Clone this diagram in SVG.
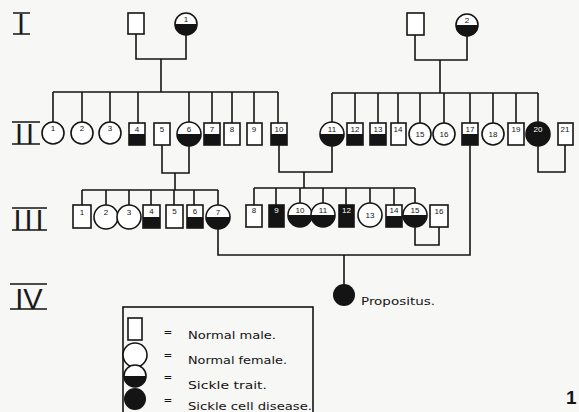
<svg xmlns="http://www.w3.org/2000/svg" width="579" height="412" viewBox="0 0 579 412">
<style>
.l{stroke:#141414;stroke-width:1.6;fill:none}
.s{fill:#fff;stroke:#141414;stroke-width:1.6}
.f{fill:#141414}
.n{font-family:"Liberation Sans",Arial,sans-serif;font-size:8px;text-anchor:middle;fill:#141414}
.w{font-family:"Liberation Sans",Arial,sans-serif;font-size:8px;text-anchor:middle;fill:#fff}
.g{font-family:"Liberation Sans",Arial,sans-serif;font-size:29px;fill:#1a1a1a}
.t{font-family:"DejaVu Sans","Liberation Sans",sans-serif;font-size:10.5px;fill:#141414}
</style>
<rect width="579" height="412" fill="#f7f7f5"/>

<g id="labels">
  <g id="gen-I"><text class="g" x="21" y="34" text-anchor="middle">I</text><path class="l" d="M13 13H30M13 34H30"/></g>
  <g id="gen-II"><text class="g" x="26" y="144" text-anchor="middle" letter-spacing="3">II</text><path class="l" d="M12 122H40M12 144H40"/></g>
  <g id="gen-III"><text class="g" x="30" y="230" text-anchor="middle" letter-spacing="3">III</text><path class="l" d="M12 208H47M12 230H47"/></g>
  <g id="gen-IV"><text class="g" x="29" y="309" text-anchor="middle">IV</text><path class="l" d="M10 284H47M10 309H47"/></g>
</g>

<g id="connectors">
  <path class="l" d="M136 34V59H186V35M161 59V92M53 92H278"/>
  <path class="l" d="M53 92V122M82 92V122M110 92V122M138 92V123M189 92V122M212 92V123M232 92V123M254 92V123M278 92V123"/>
  <path class="l" d="M415 35V60H467V36M440 60V93M332 93H538"/>
  <path class="l" d="M332 93V122M355 93V123M378 93V123M398 93V123M420 93V123M444 93V123M470 93V123M493 93V123M516 93V123M538 93V122"/>
  <path class="l" d="M162 145V173H189V146M175 173V190"/>
  <path class="l" d="M279 145V172H332V146M304 172V188"/>
  <path class="l" d="M538 146V172H565V145"/>
  <path class="l" d="M82 190H218M82 190V205M106 190V205M129 190V205M151 190V205M174 190V205M194 190V205M218 190V205"/>
  <path class="l" d="M254 188H415M254 188V205M276 188V205M300 188V203M323 188V203M346 188V205M370 188V203M394 188V205M415 188V203"/>
  <path class="l" d="M415 227V245H439V227"/>
  <path class="l" d="M218 229V255H470V145M344 255V284"/>
</g>

<!-- Generation I -->
<g id="I-a-father"><rect class="s" x="128" y="13" width="16" height="21"/></g>
<g id="I-a-mother"><circle class="s" cx="186" cy="24" r="11"/><path class="f" d="M175 24A11 11 0 0 0 197 24Z"/><text class="n" x="186" y="22">1</text></g>
<g id="I-b-father"><rect class="s" x="407" y="13" width="17" height="22"/></g>
<g id="I-b-mother"><circle class="s" cx="467" cy="25" r="11"/><path class="f" d="M456 25A11 11 0 0 0 478 25Z"/><text class="n" x="467" y="23">2</text></g>

<!-- Generation II -->
<g id="II-1"><circle class="s" cx="53" cy="133" r="11"/><text class="n" x="53" y="131">1</text></g>
<g id="II-2"><circle class="s" cx="82" cy="133" r="11"/><text class="n" x="82" y="131">2</text></g>
<g id="II-3"><circle class="s" cx="110" cy="133" r="11"/><text class="n" x="110" y="131">3</text></g>
<g id="II-4"><rect class="s" x="129" y="123" width="16" height="22"/><rect class="f" x="129" y="134" width="16" height="11"/><text class="n" x="137" y="132">4</text></g>
<g id="II-5"><rect class="s" x="154" y="123" width="16" height="22"/><text class="n" x="162" y="132">5</text></g>
<g id="II-6"><circle class="s" cx="189" cy="134" r="12"/><path class="f" d="M177 134A12 12 0 0 0 201 134Z"/><text class="n" x="189" y="132">6</text></g>
<g id="II-7"><rect class="s" x="204" y="123" width="16" height="22"/><rect class="f" x="204" y="134" width="16" height="11"/><text class="n" x="212" y="132">7</text></g>
<g id="II-8"><rect class="s" x="224" y="123" width="16" height="22"/><text class="n" x="232" y="132">8</text></g>
<g id="II-9"><rect class="s" x="247" y="123" width="15" height="22"/><text class="n" x="254" y="132">9</text></g>
<g id="II-10"><rect class="s" x="271" y="123" width="16" height="22"/><rect class="f" x="271" y="134" width="16" height="11"/><text class="n" x="279" y="132">10</text></g>
<g id="II-11"><circle class="s" cx="332" cy="134" r="12"/><path class="f" d="M320 134A12 12 0 0 0 344 134Z"/><text class="n" x="332" y="132">11</text></g>
<g id="II-12"><rect class="s" x="347" y="123" width="16" height="22"/><rect class="f" x="347" y="134" width="16" height="11"/><text class="n" x="355" y="132">12</text></g>
<g id="II-13"><rect class="s" x="370" y="123" width="16" height="22"/><rect class="f" x="370" y="134" width="16" height="11"/><text class="n" x="378" y="132">13</text></g>
<g id="II-14"><rect class="s" x="391" y="123" width="15" height="22"/><text class="n" x="398" y="132">14</text></g>
<g id="II-15"><circle class="s" cx="420" cy="134" r="11"/><text class="n" x="420" y="137">15</text></g>
<g id="II-16"><circle class="s" cx="444" cy="134" r="11"/><text class="n" x="444" y="137">16</text></g>
<g id="II-17"><rect class="s" x="462" y="123" width="16" height="22"/><rect class="f" x="462" y="134" width="16" height="11"/><text class="n" x="470" y="132">17</text></g>
<g id="II-18"><circle class="s" cx="493" cy="134" r="11"/><text class="n" x="493" y="137">18</text></g>
<g id="II-19"><rect class="s" x="508" y="123" width="16" height="22"/><text class="n" x="516" y="132">19</text></g>
<g id="II-20"><circle cx="538" cy="134" r="12" fill="#141414" stroke="#141414" stroke-width="1.6"/><text class="w" x="538" y="132">20</text></g>
<g id="II-21"><rect class="s" x="558" y="123" width="15" height="22"/><text class="n" x="565" y="132">21</text></g>

<!-- Generation III -->
<g id="III-1"><rect class="s" x="73" y="205" width="18" height="23"/><text class="n" x="82" y="215">1</text></g>
<g id="III-2"><circle class="s" cx="106" cy="217" r="12"/><text class="n" x="106" y="215">2</text></g>
<g id="III-3"><circle class="s" cx="129" cy="217" r="12"/><text class="n" x="129" y="215">3</text></g>
<g id="III-4"><rect class="s" x="143" y="205" width="17" height="23"/><rect class="f" x="143" y="217" width="17" height="11"/><text class="n" x="151.5" y="214">4</text></g>
<g id="III-5"><rect class="s" x="166" y="205" width="17" height="23"/><text class="n" x="174.5" y="214">5</text></g>
<g id="III-6"><rect class="s" x="187" y="205" width="16" height="23"/><rect class="f" x="187" y="217" width="16" height="11"/><text class="n" x="195" y="214">6</text></g>
<g id="III-7"><circle class="s" cx="218" cy="217" r="12"/><path class="f" d="M206 217A12 12 0 0 0 230 217Z"/><text class="n" x="218" y="215">7</text></g>
<g id="III-8"><rect class="s" x="246" y="205" width="16" height="22"/><text class="n" x="254" y="213">8</text></g>
<g id="III-9"><rect class="s" x="269" y="205" width="15" height="22"/><rect class="f" x="269" y="205" width="15" height="22"/><text class="w" x="276.5" y="213">9</text></g>
<g id="III-10"><circle class="s" cx="300" cy="215" r="12"/><path class="f" d="M288 215A12 12 0 0 0 312 215Z"/><text class="n" x="300" y="213">10</text></g>
<g id="III-11"><circle class="s" cx="323" cy="215" r="12"/><path class="f" d="M311 215A12 12 0 0 0 335 215Z"/><text class="n" x="323" y="213">11</text></g>
<g id="III-12"><rect class="s" x="339" y="205" width="15" height="22"/><rect class="f" x="339" y="205" width="15" height="22"/><text class="w" x="346.5" y="213">12</text></g>
<g id="III-13"><circle class="s" cx="370" cy="215" r="12"/><text class="n" x="370" y="218">13</text></g>
<g id="III-14"><rect class="s" x="386" y="205" width="16" height="22"/><rect class="f" x="386" y="216" width="16" height="11"/><text class="n" x="394" y="213">14</text></g>
<g id="III-15"><circle class="s" cx="415" cy="215" r="12"/><path class="f" d="M403 215A12 12 0 0 0 427 215Z"/><text class="n" x="415" y="213">15</text></g>
<g id="III-16"><rect class="s" x="430" y="205" width="18" height="22"/><text class="n" x="439" y="214">16</text></g>

<!-- Generation IV -->
<g id="IV-propositus"><circle class="f" cx="344" cy="295" r="11"/><text class="t" x="361" y="305" textLength="74" lengthAdjust="spacingAndGlyphs">Propositus.</text></g>

<!-- Legend -->
<g id="legend">
  <rect class="l" x="123" y="307" width="190" height="112"/>
  <rect class="s" x="128" y="318" width="14" height="22"/>
  <circle class="s" cx="135" cy="355" r="12"/>
  <circle class="s" cx="135" cy="376" r="11"/><path class="f" d="M124 376A11 11 0 0 0 146 376Z"/>
  <circle class="f" cx="135" cy="399" r="11"/>
  <text class="t" x="168" y="336" text-anchor="middle">=</text>
  <text class="t" x="168" y="359" text-anchor="middle">=</text>
  <text class="t" x="168" y="381" text-anchor="middle">=</text>
  <text class="t" x="168" y="404" text-anchor="middle">=</text>
  <text class="t" x="188" y="339" textLength="88" lengthAdjust="spacingAndGlyphs">Normal  male.</text>
  <text class="t" x="188" y="364" textLength="99" lengthAdjust="spacingAndGlyphs">Normal  female.</text>
  <text class="t" x="188" y="389" textLength="79" lengthAdjust="spacingAndGlyphs">Sickle  trait.</text>
  <text class="t" x="188" y="410" textLength="124" lengthAdjust="spacingAndGlyphs">Sickle cell disease.</text>
</g>

<text x="566" y="404" font-family="Liberation Sans,Arial,sans-serif" font-size="19" font-weight="bold" fill="#141414">1</text>
</svg>
